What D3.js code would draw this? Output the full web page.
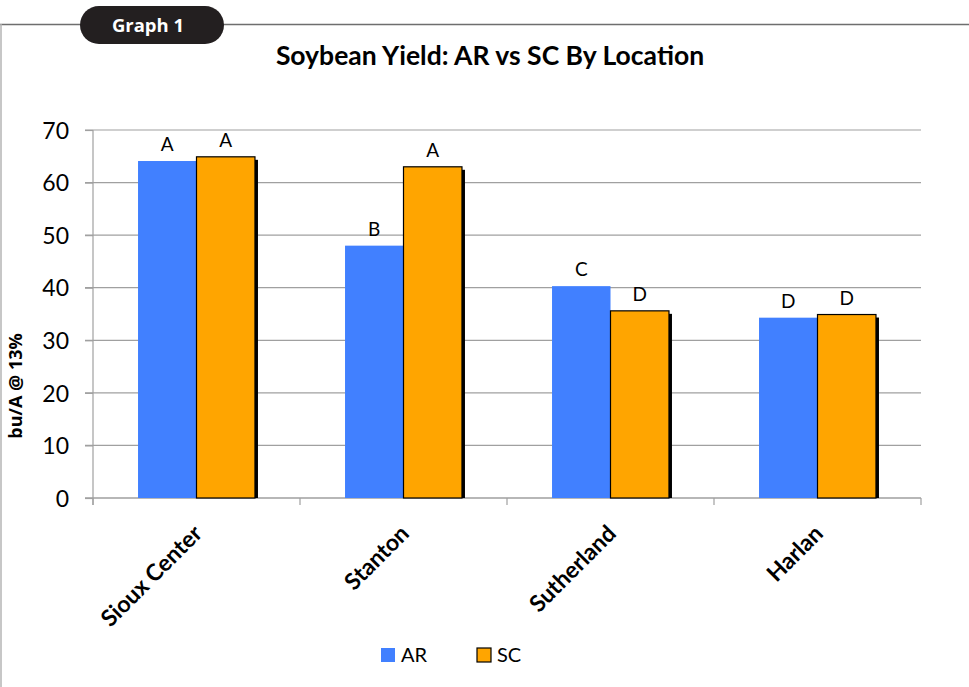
<!DOCTYPE html>
<html>
<head>
<meta charset="utf-8">
<script src="https://cdn.jsdelivr.net/npm/d3@7"></script>
<style>
  body { margin: 0; background: #fff; }
  svg { display: block; }
  .grid line { stroke: #a0a0a0; stroke-width: 1.2; }
  .axis path, .axis line { stroke: #a0a0a0; stroke-width: 1.2; }
  .axis text { font-family: Lato, sans-serif; fill: #000; }
</style>
</head>
<body>
<svg id="chart"></svg>
<script>
var width = 969,
    height = 687;

var locations = ["Sioux Center", "Stanton", "Sutherland", "Harlan"];
var series = ["AR", "SC"];
var arYield = [64.1, 48.0, 40.3, 34.3];
var scYield = [64.9, 63.0, 35.6, 34.9];
var arLetters = ["A", "B", "C", "D"];
var scLetters = ["A", "A", "D", "D"];
var yTicks = [0, 10, 20, 30, 40, 50, 60, 70];

var colors = { AR: "#4180ff", SC: "#ffa500" };

var margin = { left: 93, right: 48, top: 130, bottom: 189 };

var chart = d3.select("#chart")
              .attr("width", width)
              .attr("height", height);

var x = d3.scaleBand()
          .domain(locations)
          .range([margin.left, width - margin.right]);

var xs = d3.scaleBand()
           .domain(series)
           .range([0, x.bandwidth()])
           .paddingOuter(0.77);

var y = d3.scaleLinear()
          .domain([0, 70])
          .range([height - margin.bottom, margin.top]);

var rows = locations.map(function(d, i) {
  return { loc: d, values: [
    { key: "AR", v: arYield[i], letter: arLetters[i] },
    { key: "SC", v: scYield[i], letter: scLetters[i] }
  ]};
});

// frame round the figure
chart.append("line")
     .attr("x1", 0).attr("x2", width)
     .attr("y1", 24.5).attr("y2", 24.5)
     .attr("stroke", "#6e6e6e").attr("stroke-width", 1.5);
chart.append("line")
     .attr("x1", 1).attr("x2", 1)
     .attr("y1", 24).attr("y2", height)
     .attr("stroke", "#b4b4b4").attr("stroke-width", 1.5);

// badge
chart.append("rect")
     .attr("x", 80).attr("y", 6)
     .attr("width", 144).attr("height", 38)
     .attr("rx", 19).attr("ry", 19)
     .attr("fill", "#231f20");
chart.append("text")
     .attr("x", 148).attr("y", 32)
     .attr("text-anchor", "middle")
     .attr("font-family", "'Open Sans', sans-serif")
     .attr("font-weight", "bold")
     .attr("font-size", 18.5)
     .attr("fill", "#fff")
     .text("Graph 1");

// title
chart.append("text")
     .attr("x", 490).attr("y", 65)
     .attr("text-anchor", "middle")
     .attr("font-family", "Lato, sans-serif")
     .attr("font-weight", "bold")
     .attr("font-size", 26.5)
     .text("Soybean Yield: AR vs SC By Location");

// gridlines
chart.append("g")
     .attr("class", "grid")
     .selectAll("line")
     .data(yTicks)
     .enter().append("line")
       .attr("x1", margin.left - 8)
       .attr("x2", width - margin.right)
       .attr("y1", function(d) { return y(d); })
       .attr("y2", function(d) { return y(d); });

// y axis
var yAxis = chart.append("g")
     .attr("class", "axis")
     .attr("transform", "translate(" + margin.left + ",0)")
     .call(d3.axisLeft(y).tickValues(yTicks).tickSize(8).tickSizeOuter(0));
yAxis.selectAll("text").attr("font-size", 23).attr("x", -24).attr("dy", "0.36em");
yAxis.select(".domain").attr("d", "M0," + y(70) + "V" + (y(0) + 7));

// x axis: ticks on band edges
var xAxis = chart.append("g")
     .attr("class", "axis")
     .attr("transform", "translate(0," + y(0) + ")");
xAxis.append("line")
     .attr("x1", margin.left - 8).attr("x2", width - margin.right)
     .attr("y1", 0).attr("y2", 0);
var edges = locations.map(function(d) { return x(d); }).concat([x.range()[1]]);
xAxis.selectAll("line.tick")
     .data(edges)
     .enter().append("line")
       .attr("class", "tick")
       .attr("x1", function(d) { return d; })
       .attr("x2", function(d) { return d; })
       .attr("y1", 0).attr("y2", 7);
xAxis.selectAll("text")
     .data(locations)
     .enter().append("text")
       .attr("text-anchor", "end")
       .attr("font-family", "'Open Sans', sans-serif")
       .attr("font-weight", "bold")
       .attr("font-size", 23)
       .attr("transform", function(d) {
         return "translate(" + (x(d) + x.bandwidth() / 2 + 7) + ",37) rotate(-45)";
       })
       .text(function(d) { return d; });

// bars
var group = chart.selectAll("g.loc")
     .data(rows)
     .enter().append("g")
       .attr("class", "loc")
       .attr("transform", function(d) { return "translate(" + x(d.loc) + ",0)"; });

var bar = group.selectAll("g.bar")
     .data(function(d) { return d.values; })
     .enter().append("g")
       .attr("class", "bar");

bar.filter(function(d) { return d.key == "SC"; })
   .append("rect")
     .attr("x", function(d) { return xs(d.key) + 3; })
     .attr("y", function(d) { return y(d.v) + 3; })
     .attr("width", xs.bandwidth())
     .attr("height", function(d) { return y(0) - y(d.v) - 3; })
     .attr("fill", "#000");

bar.append("rect")
     .attr("x", function(d) { return xs(d.key); })
     .attr("y", function(d) { return y(d.v); })
     .attr("width", xs.bandwidth())
     .attr("height", function(d) { return y(0) - y(d.v); })
     .attr("fill", function(d) { return colors[d.key]; })
     .attr("stroke", function(d) { return d.key == "SC" ? "#000" : "none"; })
     .attr("stroke-width", 1.2);

bar.append("text")
     .attr("x", function(d) { return xs(d.key) + xs.bandwidth() / 2; })
     .attr("y", function(d) { return y(d.v) - 10; })
     .attr("text-anchor", "middle")
     .attr("font-family", "Lato, sans-serif")
     .attr("font-size", 19)
     .text(function(d) { return d.letter; });

// y label
chart.append("text")
     .attr("transform", "translate(22,386) rotate(-90)")
     .attr("text-anchor", "middle")
     .attr("font-family", "'Open Sans', sans-serif")
     .attr("font-weight", "bold")
     .attr("font-size", 18)
     .text("bu/A @ 13%");

// legend
var legend = chart.append("g")
     .attr("transform", "translate(381,648)");
var item = legend.selectAll("g")
     .data(series)
     .enter().append("g")
       .attr("transform", function(d, i) { return "translate(" + i * 96 + ",0)"; });
item.append("rect")
     .attr("width", 14).attr("height", 14)
     .attr("fill", function(d) { return colors[d]; })
     .attr("stroke", function(d) { return d == "SC" ? "#000" : "none"; })
     .attr("stroke-width", 1.2);
item.append("text")
     .attr("x", 20).attr("y", 14)
     .attr("font-family", "Lato, sans-serif")
     .attr("font-size", 20)
     .text(function(d) { return d; });
</script>
</body>
</html>
